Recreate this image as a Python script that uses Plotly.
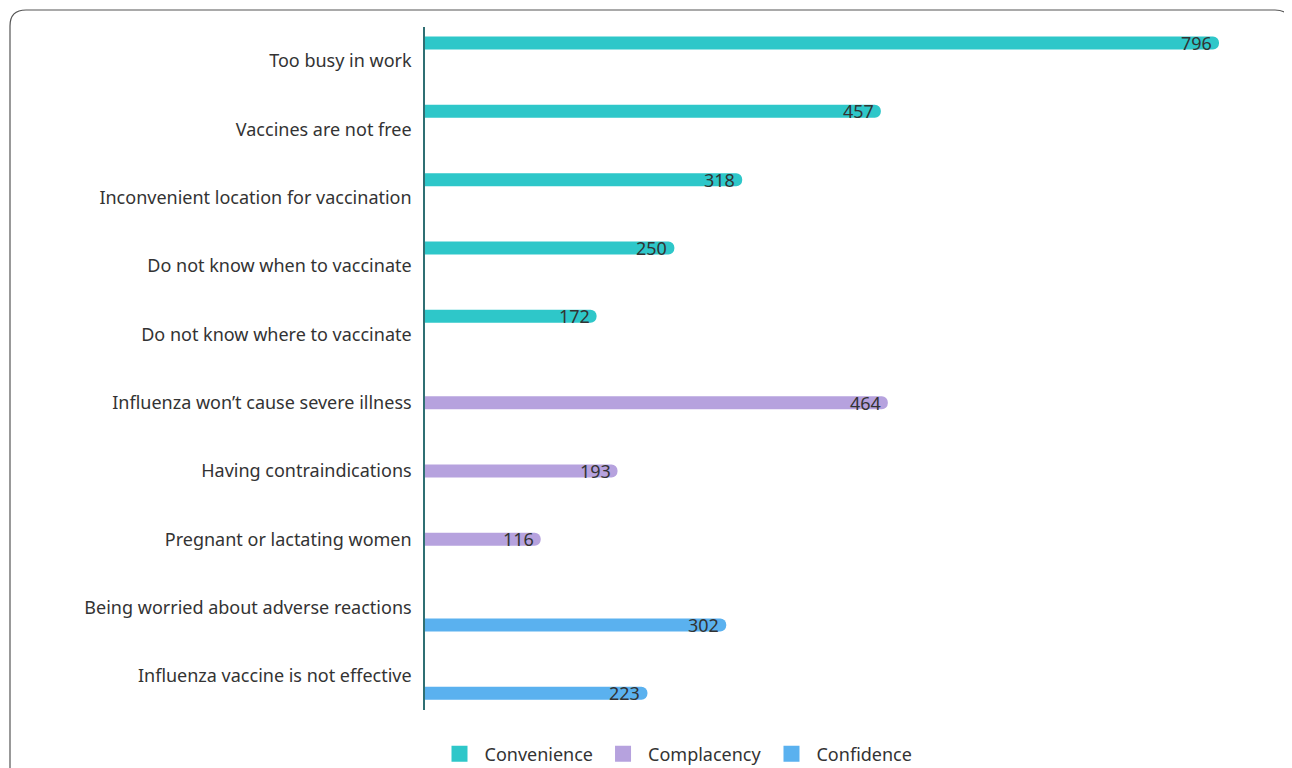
import plotly.graph_objects as go

categories = [
    "Too busy in work",
    "Vaccines are not free",
    "Inconvenient location for vaccination",
    "Do not know when to vaccinate",
    "Do not know where to vaccinate",
    "Influenza won’t cause severe illness",
    "Having contraindications",
    "Pregnant or lactating women",
    "Being worried about adverse reactions",
    "Influenza vaccine is not effective",
]
convenience = [796, 457, 318, 250, 172, None, None, None, None, None]
complacency = [None, None, None, None, None, 464, 193, 116, None, None]
confidence = [None, None, None, None, None, None, None, None, 302, 223]

# name, values, color, bar offset (category units), label shift (px)
series = [
    ("Convenience", convenience, "#2ec7c9", -0.36, 18),
    ("Complacency", complacency, "#b6a2de", -0.095, 0),
    ("Confidence", confidence, "#5ab1ef", 0.16, -17),
]

FONT = "Noto Sans"
OX, OY = 8, 8  # page body margin
W, H = 1292 - OX, 768 - OY
L, T = 425 - OX, 27 - OY
R = W + OX - 1285
B = H + OY - 710
pw, ph = W - L - R, H - T - B

fig = go.Figure()
annotations = []
for name, vals, color, off, ys in series:
    fig.add_trace(go.Bar(
        name=name, y=categories, x=vals, orientation="h",
        marker=dict(color=color, cornerradius=7, line=dict(width=0)),
        width=0.19, offset=off, legendgroup=name, showlegend=False,
    ))
    for cat, v in zip(categories, vals):
        if v is not None:
            annotations.append(dict(
                x=v, y=cat, xref="x", yref="y", text=str(v), showarrow=False,
                xanchor="right", yanchor="middle", xshift=-5, yshift=ys,
                font=dict(family=FONT, size=18, color="#333333"),
            ))
for name, vals, color, off, ys in series:
    # legend entry with a larger swatch
    fig.add_trace(go.Scatter(
        name=name, x=[None], y=[None], mode="markers", legendgroup=name,
        marker=dict(symbol="square", size=16, color=color,
                    line=dict(width=0)),
        hoverinfo="skip",
    ))

def px(x):
    return (x - OX - L) / pw

def py(y):
    return 1 - (y - OY - T) / ph

# rounded frame
x0, x1, y0, y1, r = 10, 1291, 10, 800, 16
path = (f"M {px(x0)},{py(y0 + r)} "
        f"Q {px(x0)},{py(y0)} {px(x0 + r)},{py(y0)} "
        f"L {px(x1 - r)},{py(y0)} "
        f"Q {px(x1)},{py(y0)} {px(x1)},{py(y0 + r)} "
        f"L {px(x1)},{py(y1)} "
        f"M {px(x0)},{py(y1)} L {px(x0)},{py(y0 + r)}")

fig.update_layout(
    width=W, height=H,
    margin=dict(l=L, r=R, t=T, b=B, autoexpand=False),
    barmode="overlay",
    plot_bgcolor="white", paper_bgcolor="white",
    font=dict(family=FONT, size=18, color="#333333"),
    xaxis=dict(range=[0, pw * 796 / 794], visible=False, fixedrange=True),
    yaxis=dict(autorange="reversed", showgrid=False, showline=True,
               linecolor="#2f6f73", linewidth=1.5, ticks="",
               ticklabelstandoff=8, tickfont=dict(size=18, color="#333333")),
    legend=dict(orientation="h", x=px(676), xanchor="center",
                y=py(754), yanchor="middle",
                font=dict(size=18, color="#333333"), itemwidth=40,
                traceorder="normal"),
    annotations=annotations,
    shapes=[dict(type="path", path=path, xref="paper", yref="paper",
                 line=dict(color="#555555", width=1.2), layer="above")],
    showlegend=True,
)

fig.write_html("out.html")
